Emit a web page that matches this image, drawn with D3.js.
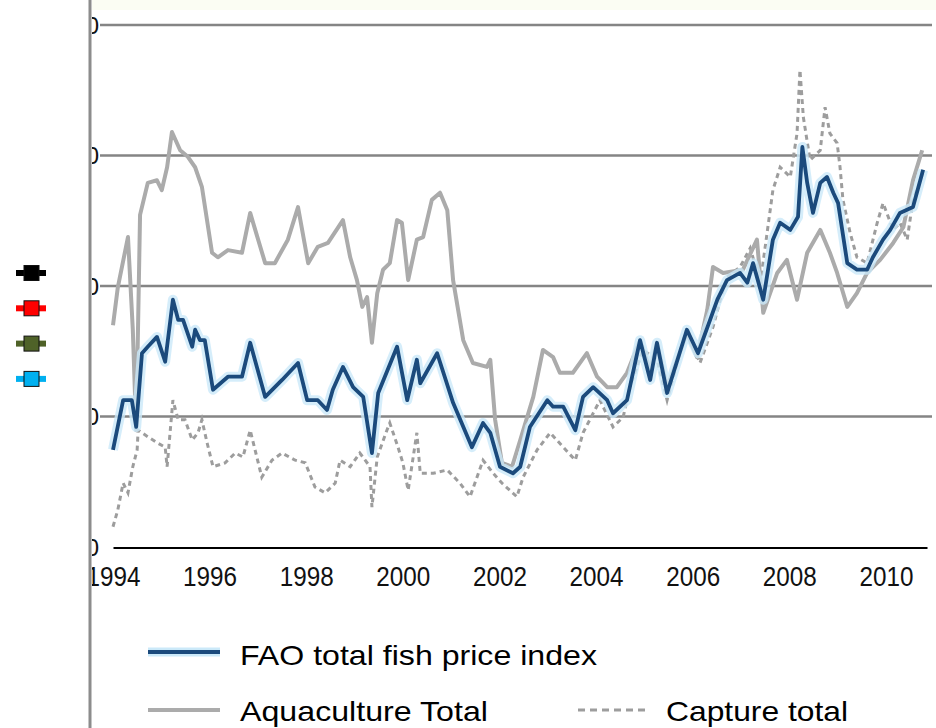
<!DOCTYPE html>
<html><head><meta charset="utf-8">
<script src="https://cdn.jsdelivr.net/npm/d3@7"></script>
<style>body{margin:0;background:#fff}svg{display:block}</style>
</head><body>
<svg id="c" width="936" height="728"></svg>
<script>
// ---- data (years, index values) ----
const faoYears = [1994.00,1994.21,1994.39,1994.48,1994.60,1994.72,1994.91,1995.08,1995.24,1995.35,1995.45,1995.64,1995.70,1995.80,1995.90,1996.07,1996.38,1996.67,1996.84,1997.15,1997.50,1997.83,1998.02,1998.24,1998.43,1998.55,1998.76,1998.97,1999.18,1999.36,1999.49,1999.88,2000.09,2000.29,2000.36,2000.71,2001.04,2001.43,2001.66,2001.81,2002.01,2002.28,2002.43,2002.63,2002.99,2003.11,2003.32,2003.57,2003.73,2003.94,2004.23,2004.35,2004.64,2004.91,2005.12,2005.26,2005.47,2005.88,2006.11,2006.36,2006.51,2006.71,2006.98,2007.13,2007.25,2007.46,2007.66,2007.81,2008.02,2008.18,2008.27,2008.37,2008.49,2008.64,2008.78,2008.91,2009.01,2009.20,2009.40,2009.61,2009.73,2009.94,2010.09,2010.29,2010.56,2010.77];
const faoValues = [74.9,82.5,82.5,78.4,89.7,90.7,92.2,88.4,97.9,94.8,94.8,90.7,93.3,91.7,91.7,84.1,86.1,86.1,91.3,83.0,85.6,88.2,82.5,82.5,81.0,84.1,87.6,84.5,83.0,74.4,83.6,90.7,82.5,88.7,85.1,89.7,82.1,75.3,79.0,77.5,72.3,71.3,72.3,78.4,82.5,81.5,81.5,77.9,83.0,84.5,82.5,80.5,82.5,91.7,85.6,91.3,83.6,93.3,89.7,94.8,97.9,100.9,102.0,100.5,103.5,97.9,107.1,109.7,108.6,110.6,121.3,115.8,111.2,115.8,116.7,114.3,112.7,103.5,102.5,102.5,104.4,107.1,108.6,111.2,112.1,117.8];

const aquaYears = [1994.00,1994.10,1994.31,1994.41,1994.48,1994.56,1994.72,1994.91,1995.01,1995.12,1995.22,1995.39,1995.55,1995.70,1995.84,1996.05,1996.17,1996.38,1996.67,1996.84,1997.15,1997.35,1997.62,1997.83,1998.04,1998.24,1998.45,1998.76,1998.91,1999.05,1999.16,1999.26,1999.36,1999.47,1999.59,1999.73,1999.88,1999.98,2000.11,2000.29,2000.42,2000.60,2000.77,2000.92,2001.04,2001.25,2001.45,2001.74,2001.81,2001.91,2002.05,2002.26,2002.43,2002.70,2002.90,2003.11,2003.25,2003.52,2003.81,2004.02,2004.23,2004.43,2004.64,2004.91,2005.12,2005.26,2005.47,2005.88,2006.09,2006.30,2006.42,2006.63,2007.04,2007.33,2007.46,2007.75,2007.95,2008.16,2008.37,2008.64,2008.84,2008.99,2009.20,2009.40,2009.61,2009.88,2010.15,2010.36,2010.56,2010.75];
const aquaValues = [94.0,99.8,107.5,93.3,77.9,110.9,115.8,116.2,114.7,118.2,123.6,120.8,119.8,118.2,115.2,105.1,104.4,105.5,105.1,111.2,103.5,103.5,107.1,112.1,103.5,106.0,106.6,110.1,104.4,100.9,96.8,98.3,91.3,98.9,102.5,103.5,110.1,109.7,100.9,107.1,107.5,113.2,114.3,111.6,100.9,91.7,88.2,87.6,88.7,79.5,72.9,72.3,76.4,83.0,90.2,89.1,86.7,86.7,89.7,86.1,84.5,84.5,86.7,91.7,87.1,91.3,84.5,92.8,89.1,96.3,102.9,102.0,102.5,107.1,95.9,102.0,104.0,97.9,105.1,108.6,105.1,102.0,96.8,98.9,102.0,104.0,106.6,109.0,116.2,120.8];

const captureYears = [1994.00,1994.10,1994.21,1994.31,1994.41,1994.50,1994.52,1994.72,1994.93,1995.08,1995.12,1995.24,1995.35,1995.49,1995.64,1995.76,1995.84,1995.95,1996.07,1996.32,1996.53,1996.69,1996.84,1996.94,1997.08,1997.29,1997.50,1997.77,1997.98,1998.18,1998.39,1998.60,1998.70,1998.91,1999.11,1999.32,1999.36,1999.47,1999.67,1999.73,1999.90,2000.00,2000.11,2000.29,2000.36,2000.63,2000.92,2001.18,2001.39,2001.66,2001.87,2002.05,2002.36,2002.49,2002.78,2003.05,2003.32,2003.57,2003.73,2004.08,2004.35,2004.56,2004.70,2004.97,2005.26,2005.47,2005.88,2006.15,2006.42,2006.57,2006.71,2006.98,2007.19,2007.40,2007.66,2007.81,2008.02,2008.16,2008.22,2008.29,2008.43,2008.64,2008.74,2008.84,2008.99,2009.05,2009.11,2009.26,2009.40,2009.61,2009.82,2009.94,2010.15,2010.29,2010.44,2010.56,2010.77];
const captureValues = [63.1,65.7,69.8,68.3,72.3,74.9,77.9,76.9,75.9,75.3,72.3,82.5,79.5,79.5,76.4,77.5,79.5,75.9,72.3,72.9,74.4,73.8,77.9,74.9,70.7,73.3,74.4,73.3,72.9,69.2,68.3,69.8,73.3,72.3,74.4,72.3,66.1,73.8,77.9,79.0,75.3,72.9,68.7,77.5,71.3,71.3,71.8,69.8,67.7,73.3,71.3,69.8,67.7,70.7,74.9,77.5,75.3,73.3,77.5,82.5,78.4,79.9,84.5,90.2,88.7,82.5,93.7,88.2,93.7,97.9,101.4,102.9,105.8,100.5,114.7,118.2,116.7,123.4,133.1,125.9,119.3,120.8,127.4,123.4,121.9,118.2,113.2,108.1,104.4,103.5,109.7,112.7,108.6,109.7,107.1,113.2,117.3];

const yTicks = [60, 80, 100, 120, 140];
const xTicks = [1994, 1996, 1998, 2000, 2002, 2004, 2006, 2008, 2010];
const legendLabels = ["FAO total fish price index", "Aquaculture Total", "Capture total"];
const sideMarkerColors = ["#000000", "#ff0000", "#4f6228", "#00b0f0"];

// ---- drawing ----
const svg = d3.select("#c");
const x = d3.scaleLinear().domain([1994, 2010.85]).range([113, 927]);
const y = d3.scaleLinear().domain([60, 140]).range([547, 25]);
const FONT = "'Liberation Sans Narrow','Arial Narrow','Liberation Sans',sans-serif";

// faint top tint
svg.append("rect").attr("x", 92).attr("y", 0).attr("width", 844).attr("height", 10).attr("fill", "#fbfdf3");

// clip for left-cut labels
svg.append("defs").append("clipPath").attr("id", "rightside")
  .append("rect").attr("x", 92).attr("y", 0).attr("width", 844).attr("height", 728);

// gridlines
svg.append("g").selectAll("line").data(yTicks.slice(1)).join("line")
  .attr("x1", 100).attr("x2", 932)
  .attr("y1", d => y(d)).attr("y2", d => y(d))
  .attr("stroke", "#858585").attr("stroke-width", 2.5);

// y labels (cut by the panel edge)
svg.append("g").attr("clip-path", "url(#rightside)").selectAll("text").data(yTicks).join("text")
  .attr("x", 99).attr("y", d => y(d)).attr("dy", "0.36em")
  .attr("text-anchor", "end").attr("font-family", FONT).attr("font-size", 24).attr("fill", "#111")
  .text(d => d);

// left vertical separator
svg.append("line").attr("x1", 90).attr("x2", 90).attr("y1", 0).attr("y2", 728)
  .attr("stroke", "#8c8c8c").attr("stroke-width", 3);

// side legend markers
const sm = svg.append("g");
sideMarkerColors.forEach((c, i) => {
  const cy = 273 + i * 35.3;
  sm.append("line").attr("x1", 16).attr("x2", 46).attr("y1", cy).attr("y2", cy)
    .attr("stroke", c).attr("stroke-width", 6);
  sm.append("rect").attr("x", 24).attr("y", cy - 7.5).attr("width", 15).attr("height", 15)
    .attr("fill", c).attr("stroke", "#111").attr("stroke-width", 1);
});

// lines
const line = d3.line().x(d => x(d[0])).y(d => y(d[1])).curve(d3.curveLinear);
const cap = captureYears.map((d, i) => [d, captureValues[i]]);
const aqua = aquaYears.map((d, i) => [d, aquaValues[i]]);
const fao = faoYears.map((d, i) => [d, faoValues[i]]);
const plot = svg.append("g").attr("clip-path", "url(#rightside)");
plot.append("path").datum(cap).attr("d", line).attr("fill", "none")
  .attr("stroke", "#9d9d9d").attr("stroke-width", 3).attr("stroke-dasharray", "5,4");
plot.append("path").datum(aqua).attr("d", line).attr("fill", "none")
  .attr("stroke", "#ababab").attr("stroke-width", 4).attr("stroke-linejoin", "round");
plot.append("path").datum(fao).attr("d", line).attr("fill", "none")
  .attr("stroke", "#cbe9f9").attr("stroke-width", 10).attr("stroke-linejoin", "round").attr("opacity", 0.8);
plot.append("path").datum(fao).attr("d", line).attr("fill", "none")
  .attr("stroke", "#1b4a7c").attr("stroke-width", 3.8).attr("stroke-linejoin", "round");

// x axis
const xAxis = d3.axisBottom(x).tickValues(xTicks).tickFormat(d3.format("d"))
  .tickSizeInner(-12).tickSizeOuter(0).tickPadding(20);
const gx = svg.append("g").attr("transform", `translate(0,${y(60)})`).attr("clip-path", "url(#rightside)").call(xAxis);
gx.select(".domain").attr("stroke", "#000").attr("stroke-width", 3);
gx.selectAll(".tick line").attr("stroke", "#000").attr("stroke-width", 2);
gx.selectAll(".tick text").attr("font-family", FONT).attr("font-size", 27).attr("fill", "#111")
  .attr("textLength", 54).attr("lengthAdjust", "spacingAndGlyphs");

// bottom legend
const lg = svg.append("g").attr("font-family", FONT).attr("font-size", 28).attr("fill", "#000");
lg.append("line").attr("x1", 148).attr("x2", 220).attr("y1", 652).attr("y2", 652)
  .attr("stroke", "#cbe9f9").attr("stroke-width", 9);
lg.append("line").attr("x1", 148).attr("x2", 220).attr("y1", 652).attr("y2", 652)
  .attr("stroke", "#1b4a7c").attr("stroke-width", 4);
lg.append("text").attr("x", 240).attr("y", 665).text(legendLabels[0])
  .attr("textLength", 357).attr("lengthAdjust", "spacingAndGlyphs");
lg.append("line").attr("x1", 148).attr("x2", 220).attr("y1", 710).attr("y2", 710)
  .attr("stroke", "#ababab").attr("stroke-width", 4);
lg.append("text").attr("x", 240).attr("y", 721).text(legendLabels[1])
  .attr("textLength", 248).attr("lengthAdjust", "spacingAndGlyphs");
lg.append("line").attr("x1", 578).attr("x2", 650).attr("y1", 710).attr("y2", 710)
  .attr("stroke", "#9d9d9d").attr("stroke-width", 3).attr("stroke-dasharray", "7,5");
lg.append("text").attr("x", 666).attr("y", 721).text(legendLabels[2])
  .attr("textLength", 182).attr("lengthAdjust", "spacingAndGlyphs");
</script>
</body></html>
